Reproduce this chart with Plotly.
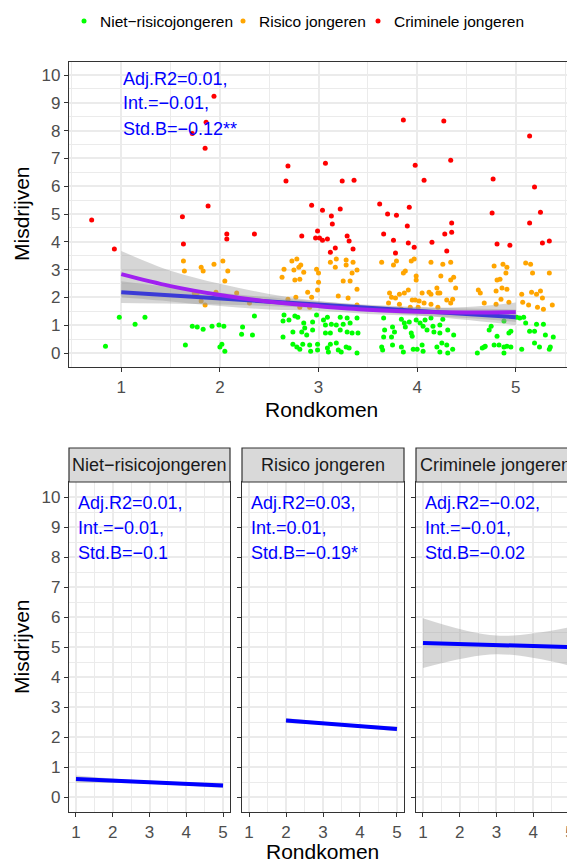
import plotly.graph_objects as go

# ── data ─────────────────────────────────────────────────────────────────────
groups = ["Niet−risicojongeren", "Risico jongeren", "Criminele jongeren"]
colors = ["#00FF00", "#FFA500", "#FF0000"]

green_x = [0.84, 0.98, 1.14, 1.24, 1.65, 1.72, 1.77, 1.83, 1.92, 1.99, 2.04, 2.02, 2.00, 2.05,
           2.23, 2.22, 2.33, 2.35,
           2.65, 2.64, 2.70, 2.76, 2.79, 2.85, 2.86, 2.94, 2.98, 3.05, 3.09, 3.07, 3.13, 3.18,
           3.22, 3.25, 3.29, 3.32, 3.39, 3.22, 3.29, 3.34, 3.40, 2.64, 2.74, 2.83, 2.88, 2.94,
           3.07, 3.12, 2.74, 2.78, 2.81, 2.84, 2.91, 2.92, 2.99, 2.99, 3.09, 3.12, 3.18, 3.10,
           3.20, 3.23, 3.28, 3.31, 3.39,
           3.66, 3.67, 3.66, 3.64, 3.65, 3.75, 3.74, 3.77, 3.84, 3.87, 3.88, 3.94, 3.95, 3.75,
           3.84, 3.86, 3.96, 4.00, 4.05, 4.06, 3.99, 4.03, 4.06, 4.10, 4.14, 4.16, 4.17, 4.23,
           4.26, 4.23, 4.31, 4.25, 4.20, 4.30, 4.23, 4.31, 4.36, 4.37, 4.61, 4.68, 4.08, 3.92,
           4.66, 4.69, 4.75, 4.73, 4.81, 4.78, 4.83, 4.88, 4.88, 4.91, 4.95, 4.93, 4.95, 4.88,
           5.04, 5.08, 5.10, 5.14, 5.19, 5.21, 5.28, 5.30, 5.38, 5.06, 5.19, 5.24, 5.34, 5.35, 5.01]
green_y = [0.25, 1.29, 1.04, 1.29, 0.29, 0.97, 0.94, 0.86, 0.97, 1.01, 0.97, 0.32, 0.22, 0.07,
           0.94, 0.68, 0.65, 1.33,
           1.37, 1.15, 1.19, 1.33, 1.29, 1.08, 0.90, 1.12, 1.37, 1.19, 1.29, 1.01, 1.04, 1.01,
           1.29, 1.04, 1.26, 1.08, 1.26, 0.83, 0.76, 0.72, 0.72, 0.58, 0.76, 0.76, 0.65, 0.83,
           0.72, 0.72, 0.32, 0.22, 0.14, 0.32, 0.29, 0.07, 0.32, 0.11, 0.18, 0.32, 0.36, 0.04,
           0.11, 0.04, 0.22, 0.18, 0.00,
           1.26, 0.83, 0.58, 0.22, 0.11, 0.94, 0.58, 0.76, 1.22, 1.08, 0.94, 0.72, 0.61, 0.29,
           0.22, 0.04, 0.14, 0.14, 0.29, 0.07, 1.19, 1.08, 0.97, 0.83, 1.26, 0.97, 0.76, 1.01,
           1.22, 0.72, 0.83, 0.36, 0.22, 0.29, 0.04, 0.00, 0.14, 0.65, 0.00, 0.22, 1.19, 1.12,
           0.18, 0.25, 0.97, 0.83, 0.61, 0.29, 0.29, 0.22, 0.00, 0.25, 0.22, 0.72, 0.79, 1.15,
           1.26, 1.29, 1.08, 0.79, 0.79, 1.04, 1.04, 0.65, 0.58, 0.14, 0.36, 0.22, 0.14, 0.22, 1.29]

orange_x = [1.63, 1.64, 1.81, 1.83, 1.94, 2.03, 2.08, 2.05, 1.96, 1.77, 1.74, 1.81, 1.85, 2.17, 2.30,
            2.73, 2.78, 2.82, 2.80, 2.65, 2.75, 2.85, 2.63, 2.76, 2.81, 2.98, 3.00, 3.00, 2.99,
            2.89, 2.93, 2.77, 2.69, 2.81, 2.91, 3.12, 3.18, 3.17, 3.28, 3.35, 3.28, 3.39, 3.34,
            3.25, 3.32, 3.39, 3.20, 3.30, 3.39,
            3.64, 3.79, 3.76, 3.94, 3.97, 4.14, 4.26, 4.34, 3.88, 3.86, 3.99, 3.99, 4.24, 4.37,
            4.34, 4.39, 3.72, 3.74, 3.71, 3.78, 3.82, 3.87, 3.91, 3.82, 3.95, 3.98, 4.02, 4.05,
            4.07, 4.12, 4.14, 4.20, 4.21, 4.14, 4.23, 4.30, 4.34, 4.36, 3.93, 4.01, 4.21, 3.84,
            4.62, 4.64, 4.68,
            4.78, 4.87, 4.91, 4.90, 4.84, 4.81, 4.80, 4.86, 4.91, 4.85, 4.93, 4.80,
            5.10, 5.15, 5.17, 5.34, 5.06, 5.16, 5.21, 5.25, 5.27, 5.07, 5.13, 5.22, 5.28, 5.37]
orange_y = [3.31, 2.95, 3.09, 2.95, 3.20, 3.31, 2.95, 2.59, 2.19, 2.16, 2.16, 1.87, 1.73, 2.16, 1.80,
            3.31, 3.38, 3.17, 3.09, 3.02, 2.99, 2.91, 2.73, 2.63, 2.66, 3.02, 2.88, 2.55, 2.27,
            2.19, 2.01, 2.01, 1.94, 1.65, 1.65, 3.27, 3.38, 3.09, 3.35, 3.27, 3.17, 2.99, 2.88,
            2.59, 2.59, 2.30, 2.05, 1.98, 1.73,
            3.27, 3.31, 3.17, 3.31, 3.38, 3.27, 3.20, 3.27, 2.95, 2.88, 2.77, 2.63, 2.77, 2.73,
            2.63, 2.34, 2.16, 2.01, 1.80, 1.98, 2.12, 2.16, 2.27, 1.76, 1.91, 1.91, 1.87, 2.16,
            1.80, 2.19, 2.12, 2.34, 2.16, 1.76, 2.16, 1.91, 1.80, 1.94, 1.65, 1.65, 1.65, 1.58,
            2.27, 2.16, 1.80,
            3.13, 3.20, 3.09, 2.88, 2.66, 2.63, 2.23, 2.34, 2.30, 1.94, 1.83, 1.76,
            3.24, 3.20, 2.88, 2.88, 2.12, 2.19, 2.12, 2.23, 1.98, 1.83, 1.73, 1.65, 1.58, 1.73]

red_x = [0.70, 0.93, 1.62, 1.63, 1.94, 1.86, 1.72, 1.85, 1.88, 2.07, 2.07, 2.35,
         2.69, 2.67, 3.07, 3.24, 3.36, 2.93, 3.04, 3.22, 3.13, 3.14, 2.83, 2.99, 2.97, 3.01,
         3.04, 3.09, 3.29, 3.31, 3.17, 3.12, 3.35,
         3.86, 4.27, 3.98, 4.34, 4.07, 3.62, 3.70, 3.79, 3.92, 3.90, 3.66, 3.76, 3.91, 3.97,
         3.78, 4.15, 4.28, 4.35, 4.35, 4.30,
         5.14, 4.77, 5.19, 4.76, 5.25, 5.14, 4.81, 4.94, 5.27, 5.34]
red_y = [4.79, 3.74, 4.90, 3.92, 9.24, 8.30, 7.90, 7.37, 5.29, 4.28, 4.10, 4.28,
         6.73, 6.19, 6.83, 6.19, 6.22, 5.32, 5.14, 5.18, 4.93, 4.64, 4.21, 4.39, 4.14, 4.14,
         4.06, 4.10, 4.21, 4.03, 3.78, 3.63, 3.74,
         8.38, 8.35, 6.76, 6.94, 6.22, 5.36, 5.00, 4.96, 5.25, 4.57, 4.28, 4.06, 3.96, 3.81,
         3.60, 3.99, 4.28, 4.35, 4.68, 3.67,
         7.81, 6.26, 5.97, 5.04, 5.07, 4.68, 3.92, 3.88, 3.96, 4.03]

# overall fits (top panel)
fit_x = [1, 2, 3, 4, 5]
lin_y = [2.19, 1.96, 1.74, 1.51, 1.29]
lin_lo = [1.80, 1.75, 1.62, 1.36, 1.01]
lin_hi = [2.58, 2.17, 1.86, 1.66, 1.57]

loess_x = [1, 1.5, 2, 2.5, 3, 3.5, 4, 4.5, 5]
loess_y = [2.84, 2.41, 2.09, 1.85, 1.69, 1.56, 1.49, 1.46, 1.47]
loess_lo = [2.01, 1.86, 1.69, 1.57, 1.51, 1.41, 1.34, 1.26, 1.12]
loess_hi = [3.67, 2.96, 2.49, 2.13, 1.87, 1.71, 1.64, 1.66, 1.82]

# per-group fits (bottom panels)
facet_x = [[1, 3, 5], [2, 3.5, 5], [1, 3, 5]]
facet_y = [[0.60, 0.49, 0.38], [2.55, 2.41, 2.27], [5.13, 5.07, 5.00]]
facet_lo = [[0.48, 0.44, 0.30], [2.47, 2.37, 2.19], [4.30, 4.76, 4.38]]
facet_hi = [[0.72, 0.54, 0.46], [2.63, 2.45, 2.35], [5.96, 5.38, 5.66]]

top_stats = ["Adj.R2=0.01,", "Int.=−0.01,", "Std.B=−0.12**"]
facet_stats = [["Adj.R2=0.01,", "Int.=−0.01,", "Std.B=−0.1"],
               ["Adj.R2=0.03,", "Int.=0.01,", "Std.B=−0.19*"],
               ["Adj.R2=−0.02,", "Int.=−0.01,", "Std.B=−0.02"]]
stat_y_top = [9.86, 8.99, 8.06]
stat_y_facet = [9.8, 8.97, 8.13]

# page body has an 8px margin, so the figure is drawn 8px smaller and shifted
OFF = 8
W, H = 575 - OFF, 863 - OFF
FONT = "Liberation Sans, Arial, sans-serif"
BAND = "rgba(153,153,153,0.4)"


def px_x(p):
    return (p - OFF) / W


def px_y(p):
    return 1 - (p - OFF) / H


fig = go.Figure()

# ── top panel: scatter ──
for name, col, xs, ys in zip(groups, colors, [green_x, orange_x, red_x], [green_y, orange_y, red_y]):
    fig.add_trace(go.Scatter(x=xs, y=ys, mode="markers", name=name, showlegend=False,
                             marker=dict(color=col, size=5), xaxis="x", yaxis="y"))


def add_band(xs, lo, hi, xa, ya, shape="linear"):
    fig.add_trace(go.Scatter(x=xs, y=lo, mode="lines", line=dict(width=0, shape=shape),
                             showlegend=False, xaxis=xa, yaxis=ya, hoverinfo="skip"))
    fig.add_trace(go.Scatter(x=xs, y=hi, mode="lines", line=dict(width=0, shape=shape),
                             fill="tonexty", fillcolor=BAND, showlegend=False,
                             xaxis=xa, yaxis=ya, hoverinfo="skip"))


add_band(fit_x, lin_lo, lin_hi, "x", "y", "spline")
add_band(loess_x, loess_lo, loess_hi, "x", "y", "spline")
fig.add_trace(go.Scatter(x=fit_x, y=lin_y, mode="lines", line=dict(color="#3B3BD6", width=4),
                         showlegend=False, xaxis="x", yaxis="y"))
fig.add_trace(go.Scatter(x=loess_x, y=loess_y, mode="lines",
                         line=dict(color="#A020F0", width=4, shape="spline"),
                         showlegend=False, xaxis="x", yaxis="y"))

# ── bottom facets ──
for i in range(3):
    xa, ya = f"x{i + 2}", f"y{i + 2}"
    add_band(facet_x[i], facet_lo[i], facet_hi[i], xa, ya, "spline")
    fig.add_trace(go.Scatter(x=facet_x[i], y=facet_y[i], mode="lines",
                             line=dict(color="#0000FF", width=4),
                             showlegend=False, xaxis=xa, yaxis=ya))

# ── axes ──
grid = dict(showgrid=True, gridcolor="#EBEBEB", gridwidth=1.6, zeroline=False,
            showline=True, mirror=True, linecolor="#333333", linewidth=1.2,
            ticks="outside", ticklen=4, tickcolor="#333333", tickwidth=1.2,
            tickfont=dict(size=17, color="#4D4D4D", family=FONT))
minor = dict(showgrid=True, gridcolor="#EBEBEB", gridwidth=0.8)

top_y = (px_y(367), px_y(62))
bot_y = (px_y(812), px_y(482))
panels = [(69, 230, [0.81, 5.19]), (242, 404, [0.81, 5.19]), (416, 575, [0.81, 5.14])]

fig.update_layout(
    xaxis=dict(domain=[px_x(69), px_x(573)], range=[0.47, 5.58], tickmode="linear", tick0=1,
               dtick=1, minor=dict(dtick=0.5, tick0=0.5, **minor), anchor="y", **grid),
    yaxis=dict(domain=list(top_y), range=[-0.5, 10.47], tickmode="linear", tick0=0, dtick=1,
               minor=dict(dtick=0.5, tick0=0.5, **minor), anchor="x", **grid),
)
for i, (l, r, rng) in enumerate(panels):
    n = i + 2
    fig.update_layout({
        f"xaxis{n}": dict(domain=[px_x(l), min(px_x(r), 1)], range=rng, tickmode="linear",
                          tick0=1, dtick=1, minor=dict(dtick=0.5, tick0=0.5, **minor),
                          anchor=f"y{n}", **grid),
        f"yaxis{n}": dict(domain=list(bot_y), range=[-0.5, 10.5], tickmode="linear", tick0=0,
                          dtick=1, minor=dict(dtick=0.5, tick0=0.5, **minor),
                          anchor=f"x{n}", showticklabels=(i == 0), **grid),
    })

# ── strips ──
shapes = []
annotations = []
for i, (l, r, rng) in enumerate(panels):
    shapes.append(dict(type="rect", xref="paper", yref="paper", x0=px_x(l), x1=min(px_x(r), 1),
                       y0=px_y(482), y1=px_y(448), fillcolor="#D9D9D9",
                       line=dict(color="#333333", width=1.2)))
    annotations.append(dict(text=groups[i], xref="paper", yref="paper",
                            x=px_x((l + r) / 2), y=px_y(465), xanchor="center",
                            yanchor="middle", showarrow=False,
                            font=dict(size=18, color="#1A1A1A", family=FONT)))

# stats text
for t, yv in zip(top_stats, stat_y_top):
    annotations.append(dict(text=t, xref="x", yref="y", x=1.0, y=yv, xanchor="left",
                            yanchor="middle", showarrow=False,
                            font=dict(size=18, color="#0000FF", family=FONT)))
for i in range(3):
    for t, yv in zip(facet_stats[i], stat_y_facet):
        annotations.append(dict(text=t, xref=f"x{i + 2}", yref=f"y{i + 2}", x=1.0, y=yv,
                                xanchor="left", yanchor="middle", showarrow=False,
                                font=dict(size=18, color="#0000FF", family=FONT)))

# axis titles
title_font = dict(size=21, color="#000000", family=FONT)
for txt, x, y, ang in [("Rondkomen", 321, 409, 0), ("Rondkomen", 322, 851, 0),
                       ("Misdrijven", 21, 214, -90), ("Misdrijven", 21, 647, -90)]:
    annotations.append(dict(text=txt, xref="paper", yref="paper", x=px_x(x), y=px_y(y),
                            xanchor="center", yanchor="middle", showarrow=False,
                            textangle=ang, font=title_font))

# legend (drawn as keys + labels, ggplot style)
legend_dot_x = [84, 243, 378]
for name, col, dx in zip(groups, colors, legend_dot_x):
    shapes.append(dict(type="circle", xref="paper", yref="paper",
                       x0=px_x(dx - 2.5), x1=px_x(dx + 2.5), y0=px_y(23.5), y1=px_y(18.5),
                       fillcolor=col, line=dict(width=0)))
    annotations.append(dict(text=name, xref="paper", yref="paper", x=px_x(dx + 14),
                            y=px_y(21), xanchor="left", yanchor="middle", showarrow=False,
                            font=dict(size=15.5, color="#000000", family=FONT)))

fig.update_layout(
    width=W, height=H,
    margin=dict(l=0, r=0, t=0, b=0),
    paper_bgcolor="white", plot_bgcolor="white",
    font=dict(family=FONT),
    shapes=shapes, annotations=annotations,
    showlegend=False,
)

fig.write_html("out.html")
